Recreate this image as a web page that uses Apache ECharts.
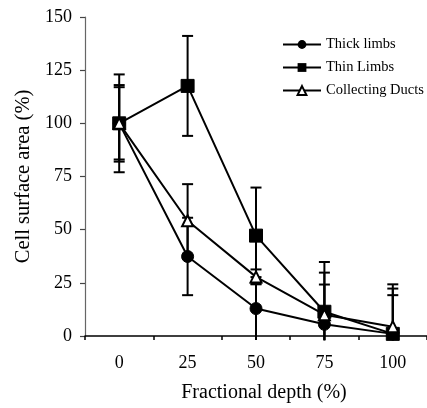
<!DOCTYPE html>
<html>
<head>
<meta charset="utf-8">
<script src="https://cdn.jsdelivr.net/npm/echarts@6/dist/echarts.min.js"></script>
<style>
html,body{margin:0;padding:0;background:#fff;}
#c{width:427px;height:408px;}
</style>
</head>
<body>
<div id="c"></div>
<script>
const categories = ['0', '25', '50', '75', '100'];
const thickLimbs = [100, 37.4, 12.9, 5.5, 1];
const thinLimbs = [100, 117.6, 47.2, 11.4, 1];
const collectingDucts = [100, 54.2, 27.8, 10, 4.4];
const thickErr = [18, 18.2, 14.8, 18.7, 18.2];
const thinErr = [23, 23.5, 22.6, 23.4, 23.3];
const ductsErr = [17, 17.2, 3.5, 19.8, 17.9];
const yTicks = [0, 25, 50, 75, 100, 125, 150];

const FONT = 'Liberation Serif';

function errData(vals, errs) {
  return vals.map((v, i) => [i, v - errs[i], v + errs[i]]);
}

function renderErr(params, api) {
  const idx = api.value(0);
  const lowVal = api.value(1);
  const hi = api.coord([idx, api.value(2)]);
  const lo = api.coord([idx, Math.max(lowVal, -2)]);
  const cap = 5.5;
  const style = { stroke: '#000', lineWidth: 2 };
  const children = [
    { type: 'line', shape: { x1: hi[0], y1: hi[1], x2: lo[0], y2: lo[1] }, style },
    { type: 'line', shape: { x1: hi[0] - cap, y1: hi[1], x2: hi[0] + cap, y2: hi[1] }, style }
  ];
  if (lowVal >= 0) {
    children.push({ type: 'line', shape: { x1: lo[0] - cap, y1: lo[1], x2: lo[0] + cap, y2: lo[1] }, style });
  }
  return { type: 'group', children };
}

function errSeries(vals, errs) {
  return {
    type: 'custom',
    renderItem: renderErr,
    data: errData(vals, errs),
    z: 1,
    silent: true,
    clip: false
  };
}

const chart = echarts.init(document.getElementById('c'), null, { renderer: 'canvas' });
chart.setOption({
  animation: false,
  backgroundColor: '#fff',
  textStyle: { fontFamily: FONT, color: '#000' },
  grid: { left: 85, top: 17, width: 345, height: 321, containLabel: false },
  legend: {
    orient: 'vertical',
    left: 282,
    top: 37,
    padding: 0,
    itemWidth: 38,
    itemHeight: 11,
    itemGap: 8,
    textStyle: { fontFamily: FONT, fontSize: 14.5, color: '#000' },
    data: ['Thick limbs', 'Thin Limbs', 'Collecting Ducts']
  },
  xAxis: {
    type: 'category',
    data: categories,
    boundaryGap: true,
    name: 'Fractional depth (%)',
    nameLocation: 'middle',
    nameGap: 47,
    nameTextStyle: { fontFamily: FONT, fontSize: 20, color: '#000', padding: [0, 0, 0, 16] },
    axisLine: { lineStyle: { color: '#000', width: 1.5 } },
    axisTick: { show: true, alignWithLabel: false, length: 4, lineStyle: { color: '#000', width: 1.5 } },
    axisLabel: { fontFamily: FONT, fontSize: 18, color: '#000', margin: 18 },
    splitLine: { show: false }
  },
  yAxis: {
    type: 'value',
    min: yTicks[0],
    max: yTicks[yTicks.length - 1],
    interval: 25,
    name: 'Cell surface area (%)',
    nameLocation: 'middle',
    nameGap: 48,
    nameTextStyle: { fontFamily: FONT, fontSize: 20.5, color: '#000' },
    axisLine: { show: true, lineStyle: { color: '#666', width: 1.2 } },
    axisTick: { show: true, length: 5, lineStyle: { color: '#444', width: 1.2 } },
    axisLabel: { fontFamily: FONT, fontSize: 18, color: '#000', margin: 13 },
    splitLine: { show: false }
  },
  series: [
    errSeries(thinLimbs, thinErr),
    errSeries(thickLimbs, thickErr),
    errSeries(collectingDucts, ductsErr),
    {
      name: 'Thick limbs', type: 'line', data: thickLimbs,
      symbol: 'circle', symbolSize: 12,
      lineStyle: { color: '#000', width: 2 },
      itemStyle: { color: '#000', borderColor: '#000' },
      z: 3
    },
    {
      name: 'Thin Limbs', type: 'line', data: thinLimbs,
      symbol: 'rect', symbolSize: 13,
      lineStyle: { color: '#000', width: 2 },
      itemStyle: { color: '#000', borderColor: '#000' },
      z: 3
    },
    {
      name: 'Collecting Ducts', type: 'line', data: collectingDucts,
      symbol: 'triangle', symbolSize: 11,
      lineStyle: { color: '#000', width: 2 },
      itemStyle: { color: '#fff', borderColor: '#000', borderWidth: 2 },
      z: 4
    }
  ]
});
</script>
</body>
</html>
